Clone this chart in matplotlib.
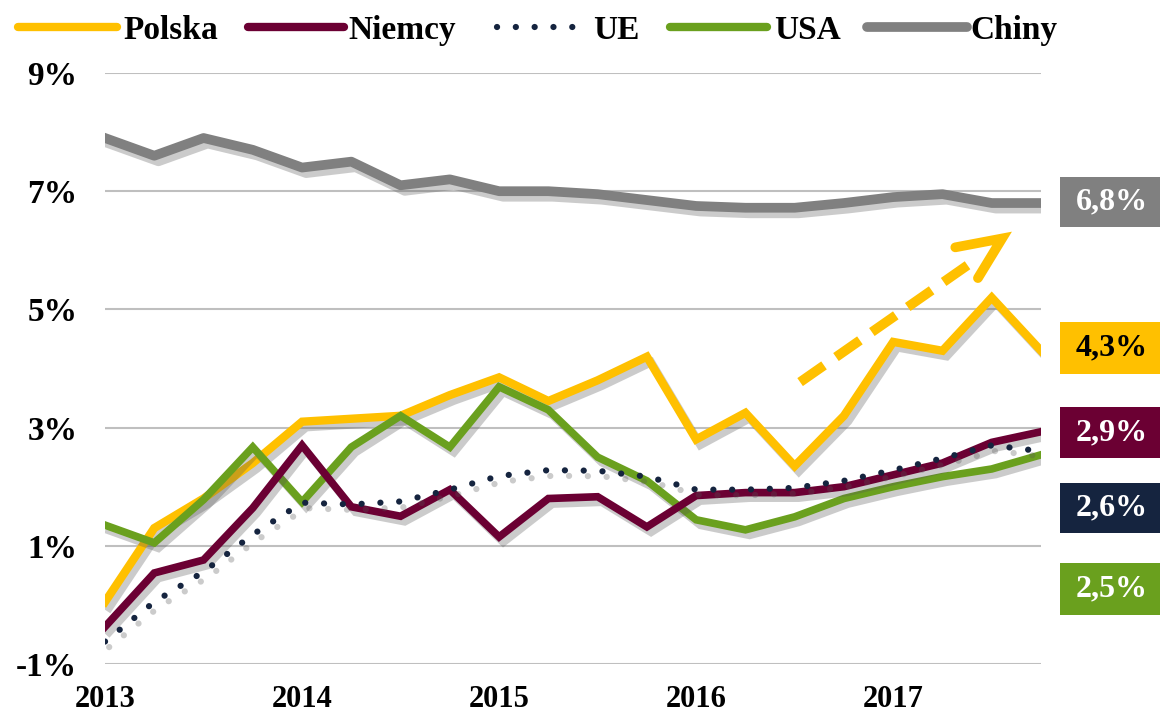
import matplotlib
matplotlib.use("Agg")
import matplotlib.pyplot as plt
import matplotlib.patheffects as pe
from matplotlib.lines import Line2D
from matplotlib.patches import Rectangle

# ---- data (quarterly, 2013 Q1 .. 2017 Q4) ----
years = ["2013", "2014", "2015", "2016", "2017"]
polska = [0.05, 1.3, 1.8, 2.4, 3.1, 3.15, 3.2, 3.55, 3.85, 3.45, 3.8, 4.2,
          2.8, 3.25, 2.35, 3.2, 4.45, 4.3, 5.2, 4.3]
niemcy = [-0.37, 0.54, 0.76, 1.64, 2.7, 1.66, 1.5, 1.95, 1.15, 1.8, 1.83, 1.32,
          1.85, 1.9, 1.9, 2.0, 2.2, 2.4, 2.75, 2.93]
ue = [-0.62, 0.05, 0.56, 1.19, 1.73, 1.7, 1.75, 1.95, 2.18, 2.28, 2.27, 2.17,
      1.95, 1.95, 1.98, 2.1, 2.28, 2.48, 2.7, 2.6]
usa = [1.35, 1.05, 1.78, 2.67, 1.74, 2.67, 3.2, 2.67, 3.69, 3.3, 2.5, 2.1,
       1.44, 1.27, 1.49, 1.8, 2.0, 2.17, 2.3, 2.54]
chiny = [7.9, 7.6, 7.9, 7.7, 7.4, 7.5, 7.1, 7.2, 7.0, 7.0, 6.95, 6.85,
         6.75, 6.72, 6.72, 6.8, 6.9, 6.95, 6.8, 6.8]
series_names = ["Polska", "Niemcy", "UE", "USA", "Chiny"]
end_labels = ["6,8%", "4,3%", "2,9%", "2,6%", "2,5%"]
yticks = [-1, 1, 3, 5, 7, 9]

C_YEL = "#FFC000"
C_MAR = "#6B0033"
C_NAV = "#15243F"
C_GRN = "#6AA01E"
C_GRY = "#808080"

SERIF = ["Liberation Serif", "DejaVu Serif"]
FS = 24

fig = plt.figure(figsize=(11.61, 7.19), dpi=100)
ax = fig.add_axes([105/1161, 1-664/719, (1041-105)/1161, (664-73)/719])
x = list(range(len(polska)))

shadow = [pe.SimpleLineShadow(offset=(3, -4), shadow_color="#555555", alpha=0.3), pe.Normal()]
dot_style = (0, (0.01, 3.0))

ax.plot(x, chiny, color=C_GRY, lw=7, solid_joinstyle="round", path_effects=shadow, zorder=3)
ax.plot(x, polska, color=C_YEL, lw=6, solid_joinstyle="miter", path_effects=shadow, zorder=4)
ax.plot(x, usa, color=C_GRN, lw=5.5, solid_joinstyle="miter", path_effects=shadow, zorder=4)
ax.plot(x, ue, color=C_NAV, lw=4.5, linestyle=dot_style, dash_capstyle="round",
        path_effects=shadow, zorder=5)
ax.plot(x, niemcy, color=C_MAR, lw=5.5, solid_joinstyle="miter", path_effects=shadow, zorder=4)

# dashed trend arrow
ax.plot([14.11, 17.6], [3.77, 5.80], color=C_YEL, lw=7, linestyle=(0, (3.0, 1.5)),
        dash_capstyle="butt", zorder=6)
ax.plot([17.26, 18.21, 17.72], [6.05, 6.20, 5.53], color=C_YEL, lw=7, solid_joinstyle="miter",
        solid_capstyle="round", zorder=6)

ax.set_xlim(0, 19)
ax.set_ylim(-1, 9)
ax.set_yticks(yticks)
ax.set_yticklabels([f"{v}%" for v in yticks], fontsize=FS, fontweight="bold", family=SERIF)
ax.set_xticks([0, 4, 8, 12, 16])
ax.set_xticklabels(years, fontsize=22, fontweight="bold", family=SERIF)
ax.tick_params(length=0)
ax.tick_params(axis="y", pad=20)
ax.tick_params(axis="x", pad=15)
ax.grid(axis="y", color="#BFBFBF", lw=1.5)
ax.set_axisbelow(True)
for s in ax.spines.values():
    s.set_visible(False)

# end-value boxes
boxes = [(177, 227, C_GRY, "white"), (322, 374, C_YEL, "black"), (407, 458, C_MAR, "white"),
         (483, 533, C_NAV, "white"), (563, 615, C_GRN, "white")]
for (t, b, fc, tc), lab in zip(boxes, end_labels):
    fig.add_artist(Rectangle((1060/1161, 1-b/719), 100/1161, (b-t)/719,
                             transform=fig.transFigure, facecolor=fc, edgecolor="none"))
    fig.text(1112/1161, 1-(t+b)/2/719, lab, ha="center", va="center", color=tc,
             fontsize=23, fontweight="bold", family=SERIF)

# legend (manual placement)
leg_y = 1 - 27/719
leg_items = [((18, 117), 123, C_YEL, 6, "-"),
             ((248, 344), 348, C_MAR, 6, "-"),
             ((497, 585), 593, C_NAV, 4.5, dot_style),
             ((670, 767), 774, C_GRN, 6, "-"),
             ((867, 967), 970, C_GRY, 7, "-")]
for ((x0, x1), tx, col, lw, ls), name in zip(leg_items, series_names):
    fig.add_artist(Line2D([x0/1161, x1/1161], [leg_y, leg_y], transform=fig.transFigure,
                          color=col, lw=lw, linestyle=ls, solid_capstyle="round",
                          dash_capstyle="round"))
    fig.text(tx/1161, leg_y, name, ha="left", va="center_baseline", fontsize=FS,
             fontweight="bold", family=SERIF)

fig.savefig("out.png", dpi=100, facecolor="white")
